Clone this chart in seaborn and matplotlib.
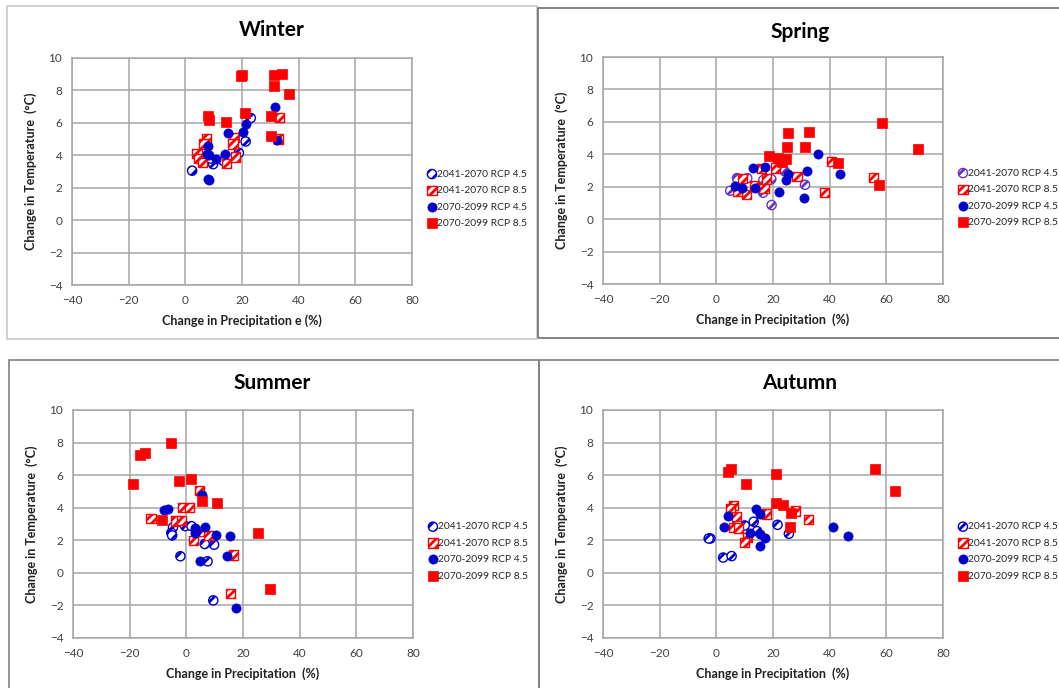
import matplotlib
matplotlib.use("Agg")
import matplotlib.pyplot as plt
from matplotlib.patches import Rectangle
import seaborn as sns

# --------------------------- DATA ---------------------------

series_labels = ["2041-2070 RCP 4.5", "2041-2070 RCP 8.5",
                 "2070-2099 RCP 4.5", "2070-2099 RCP 8.5"]
seasons = ["Winter", "Spring", "Summer", "Autumn"]
xlabels = ["Change in Precipitation e (%)", "Change in Precipitation  (%)",
           "Change in Precipitation  (%)", "Change in Precipitation  (%)"]
ylabel = "Change in Temperature  (°C)"
xticks = [-40, -20, 0, 20, 40, 60, 80]
yticks = [-4, -2, 0, 2, 4, 6, 8, 10]

# Winter
win_a45_x = [23.1, 21.3, 18.9, 2.4, 9.8, 8.9, 13.5]
win_a45_y = [6.3, 4.85, 4.15, 3.05, 3.45, 3.8, 3.65]
win_a85_x = [33.3, 32.8, 7.4, 6.6, 17.4, 16.8, 4.1, 4.6, 6.0, 14.6, 17.8]
win_a85_y = [6.35, 5.0, 5.0, 4.7, 5.1, 4.7, 4.1, 3.8, 3.55, 3.5, 3.9]
win_b45_x = [31.5, 21.4, 20.4, 15.2, 32.4, 8.1, 7.5, 8.2, 10.7, 13.9, 7.9, 8.4]
win_b45_y = [7.0, 5.95, 5.45, 5.4, 4.95, 4.55, 4.05, 4.0, 3.8, 4.05, 2.55, 2.45]
win_b85_x = [20.0, 19.6, 31.4, 34.1, 31.4, 36.5, 21.2, 7.9, 8.5, 14.4, 30.2, 30.2]
win_b85_y = [8.95, 8.9, 8.95, 9.0, 8.25, 7.8, 6.6, 6.4, 6.15, 6.05, 6.4, 5.2]

# Spring
spr_a45_x = [24.1, 31.3, 19.5, 19.4, 16.6, 10.9, 7.3, 4.9, 16.5, 8.5]
spr_a45_y = [2.96, 2.12, 0.87, 2.47, 2.41, 2.53, 2.53, 1.75, 1.63, 2.0]
spr_a85_x = [40.6, 55.6, 38.2, 28.5, 20.9, 16.0, 9.2, 17.6, 16.8, 13.5, 10.6, 7.6]
spr_a85_y = [3.54, 2.55, 1.63, 2.65, 3.15, 3.1, 2.49, 2.47, 1.87, 2.04, 1.52, 1.69]
spr_b45_x = [35.9, 43.8, 32.1, 25.3, 24.6, 30.8, 22.0, 17.2, 12.8, 13.8, 9.1, 6.6]
spr_b45_y = [3.99, 2.76, 2.94, 2.78, 2.41, 1.32, 1.65, 3.23, 3.15, 1.89, 1.93, 2.04]
spr_b85_x = [58.5, 71.2, 25.2, 32.6, 24.8, 31.2, 18.6, 21.9, 24.5, 23.1, 42.9, 57.4]
spr_b85_y = [5.92, 4.3, 5.32, 5.36, 4.46, 4.42, 3.88, 3.76, 3.74, 3.5, 3.45, 2.08]

# Summer
sum_a45_x = [-4.7, -0.4, 1.8, -5.3, -5.0, 6.5, 9.8, -2.1, 7.5, 9.5]
sum_a45_y = [2.8, 2.87, 2.87, 2.46, 2.3, 1.77, 1.73, 1.02, 0.71, -1.69]
sum_a85_x = [4.7, -1.4, 1.0, -12.5, -3.9, -1.8, 4.9, 8.0, 2.4, 16.6, 15.5]
sum_a85_y = [5.06, 4.0, 4.0, 3.33, 3.18, 3.22, 2.52, 2.29, 2.0, 1.1, -1.26]
sum_b45_x = [5.6, -7.9, -6.5, 3.1, 6.6, 3.1, 10.4, 15.5, 14.5, 4.9, 17.4, 3.5]
sum_b45_y = [4.78, 3.86, 3.92, 2.77, 2.83, 2.46, 2.34, 2.24, 1.05, 0.75, -2.16, 2.6]
sum_b85_x = [-5.5, -16.5, -14.6, -18.8, -2.6, 1.6, 5.6, 10.7, -8.5, 25.4, 29.4]
sum_b85_y = [8.0, 7.26, 7.34, 5.44, 5.66, 5.79, 4.39, 4.31, 3.27, 2.45, -1.0]

# Autumn
aut_a45_x = [-2.1, -2.7, 2.4, 5.4, 10.0, 13.2, 14.4, 21.6, 25.6, 7.5]
aut_a45_y = [2.11, 2.11, 0.94, 1.03, 2.91, 3.14, 2.56, 2.95, 2.4, 3.0]
aut_a85_x = [6.1, 4.9, 7.1, 17.6, 27.9, 32.6, 6.1, 7.9, 11.1, 10.0]
aut_a85_y = [4.16, 3.96, 3.45, 3.61, 3.8, 3.3, 2.79, 2.75, 2.17, 1.85]
aut_b45_x = [14.0, 15.5, 4.0, 2.6, 41.2, 46.4, 12.0, 15.5, 17.2, 15.3]
aut_b45_y = [3.9, 3.61, 3.49, 2.83, 2.83, 2.24, 2.42, 2.38, 2.13, 1.66]
aut_b85_x = [5.3, 4.2, 20.9, 56.1, 63.2, 10.4, 20.9, 23.5, 26.4, 25.9]
aut_b85_y = [6.4, 6.17, 6.05, 6.36, 5.05, 5.44, 4.31, 4.16, 3.69, 2.79]

season_data = {
    "Winter": [(win_a45_x, win_a45_y), (win_a85_x, win_a85_y),
               (win_b45_x, win_b45_y), (win_b85_x, win_b85_y)],
    "Spring": [(spr_a45_x, spr_a45_y), (spr_a85_x, spr_a85_y),
               (spr_b45_x, spr_b45_y), (spr_b85_x, spr_b85_y)],
    "Summer": [(sum_a45_x, sum_a45_y), (sum_a85_x, sum_a85_y),
               (sum_b45_x, sum_b45_y), (sum_b85_x, sum_b85_y)],
    "Autumn": [(aut_a45_x, aut_a45_y), (aut_a85_x, aut_a85_y),
               (aut_b45_x, aut_b45_y), (aut_b85_x, aut_b85_y)],
}

# --------------------------- STYLE ---------------------------

sns.set_theme(style="white")
plt.rcParams["font.family"] = ["Lato", "DejaVu Sans"]
plt.rcParams["hatch.linewidth"] = 2.0

BLUE = "#0000CC"
RED = "#FF0000"
PURPLE = "#6633CC"
W, H = 1059, 688

fig = plt.figure(figsize=(W / 100, H / 100), dpi=100)

# panel boxes (pixels: x0, y0, x1, y1) and colours
boxes = [(7, 6, 537, 339, "#c8c8c8"), (538, 8, 1070, 338, "#707070"),
         (9, 360, 539, 700, "#808080"), (539, 360, 1070, 700, "#808080")]
for x0, y0, x1, y1, c in boxes:
    fig.patches.append(Rectangle((x0 / W, 1 - y1 / H), (x1 - x0) / W, (y1 - y0) / H,
                                 transform=fig.transFigure, fill=False,
                                 edgecolor=c, linewidth=1.2))

# axes placement in pixels (left, top of 10, right, bottom of -4)
axes_px = {"Winter": (72, 58, 412, 285), "Spring": (603, 57, 943, 284),
           "Summer": (73, 410, 413, 638), "Autumn": (603, 410, 943, 638)}
title_px = {"Winter": (272, 30), "Spring": (800, 32),
            "Summer": (272, 383), "Autumn": (800, 383)}

for season, xlab in zip(seasons, xlabels):
    l, t, r, b = axes_px[season]
    ax = fig.add_axes([l / W, 1 - b / H, (r - l) / W, (b - t) / H])
    circ_hatch_col = PURPLE if season == "Spring" else BLUE
    styles = [
        dict(marker="o", s=44, color="white", edgecolor=circ_hatch_col, hatch="///", linewidth=1.0),
        dict(marker="s", s=44, color="white", edgecolor=RED, hatch="////", linewidth=1.0),
        dict(marker="o", s=44, color=BLUE, edgecolor=BLUE, linewidth=0.5),
        dict(marker="s", s=44, color=RED, edgecolor=RED, linewidth=0.5),
    ]
    for (xs, ys), lab, st in zip(season_data[season], series_labels, styles):
        sns.scatterplot(x=xs, y=ys, ax=ax, label=lab, zorder=3, **st)

    ax.set_xlim(-40, 80)
    ax.set_ylim(-4, 10)
    ax.set_xticks(xticks)
    ax.set_yticks(yticks)
    ax.grid(True, color="#a6a6a6", linewidth=1.1)
    for sp in ax.spines.values():
        sp.set_color("#a6a6a6")
        sp.set_linewidth(1.1)
    ax.tick_params(length=0, labelsize=8.5, colors="#404040", pad=7)
    ax.set_xlabel(xlab, fontsize=9, fontweight="bold", color="#202020", labelpad=6)
    ax.set_ylabel(ylabel, fontsize=9, fontweight="bold", color="#202020", labelpad=8)

    ax.legend(loc="center left", bbox_to_anchor=(1.045, 0.38), frameon=False,
              fontsize=7.4, handletextpad=0.05, handlelength=0.9, labelspacing=0.7,
              borderaxespad=0, borderpad=0)

    tx, ty = title_px[season]
    fig.text(tx / W, 1 - ty / H, season, ha="center", va="center",
             fontsize=15, fontweight="bold", color="black")

fig.savefig("out.png", dpi=100)
